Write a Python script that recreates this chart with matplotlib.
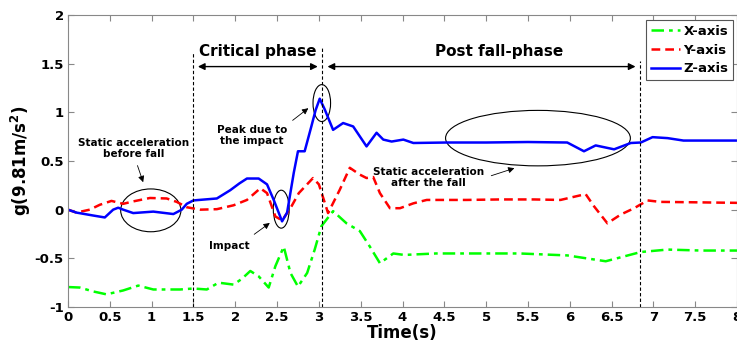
import matplotlib
matplotlib.use("Agg")
import matplotlib.pyplot as plt
from matplotlib.patches import Ellipse

# data
t_x = [0, 0.14, 0.30, 0.46, 0.66, 0.84, 1.02, 1.34, 1.50, 1.66, 1.80, 1.98, 2.08, 2.18, 2.28,
       2.40, 2.48, 2.58, 2.66, 2.75, 2.86, 2.95, 3.03, 3.17, 3.33, 3.49, 3.61, 3.73, 3.89, 4.02,
       4.40, 5.40, 5.97, 6.43, 6.85, 7.17, 7.57, 8.0]
x_axis = [-0.795, -0.80, -0.84, -0.87, -0.83, -0.78, -0.82, -0.82, -0.81, -0.82, -0.75, -0.77,
          -0.71, -0.63, -0.685, -0.80, -0.58, -0.38, -0.65, -0.79, -0.65, -0.41, -0.17, -0.015,
          -0.14, -0.22, -0.38, -0.55, -0.45, -0.465, -0.45, -0.45, -0.47, -0.53, -0.435, -0.41,
          -0.42, -0.42]

t_y = [0, 0.10, 0.26, 0.38, 0.52, 0.66, 0.78, 0.98, 1.18, 1.30, 1.42, 1.58, 1.78, 1.98, 2.14,
       2.30, 2.38, 2.48, 2.56, 2.66, 2.76, 2.93, 3.00, 3.11, 3.25, 3.37, 3.49, 3.57, 3.65, 3.73,
       3.85, 3.97, 4.13, 4.29, 4.77, 5.17, 5.57, 5.89, 6.19, 6.29, 6.45, 6.61, 6.77, 6.93, 7.08,
       7.56, 8.0]
y_axis = [0.0, -0.03, 0.0, 0.05, 0.09, 0.06, 0.085, 0.12, 0.115, 0.08, 0.025, 0.0, 0.005, 0.045,
          0.10, 0.22, 0.17, -0.07, -0.11, 0.015, 0.17, 0.325, 0.26, -0.035, 0.205, 0.43, 0.36,
          0.325, 0.335, 0.17, 0.015, 0.015, 0.065, 0.10, 0.10, 0.105, 0.105, 0.10, 0.16, 0.035,
          -0.14, -0.05, 0.015, 0.095, 0.08, 0.075, 0.07]

t_z = [0, 0.10, 0.30, 0.44, 0.54, 0.60, 0.66, 0.78, 1.02, 1.26, 1.36, 1.42, 1.50, 1.78, 1.94,
       2.05, 2.14, 2.28, 2.38, 2.46, 2.56, 2.62, 2.70, 2.75, 2.83, 2.91, 2.96, 3.01, 3.07, 3.17,
       3.29, 3.41, 3.57, 3.69, 3.77, 3.87, 4.01, 4.13, 4.53, 5.0, 5.5, 5.97, 6.17, 6.31, 6.53,
       6.73, 6.85, 6.99, 7.17, 7.36, 8.0]
z_axis = [0.0, -0.03, -0.06, -0.08, 0.0, 0.02, 0.0, -0.035, -0.02, -0.045, 0.0, 0.06, 0.095,
          0.115, 0.2, 0.27, 0.32, 0.32, 0.26, 0.10, -0.12, -0.03, 0.38, 0.6, 0.6, 0.855, 1.02,
          1.14, 1.03, 0.82, 0.89, 0.855, 0.65, 0.79, 0.72, 0.70, 0.72, 0.685, 0.69, 0.69, 0.695,
          0.69, 0.60, 0.66, 0.62, 0.685, 0.69, 0.745, 0.735, 0.71, 0.71]

phase_lines = [1.5, 3.04, 6.84]
line_tops = [1.61, 1.67, 1.53]

fig = plt.figure(figsize=(7.37, 3.43), dpi=100)
ax = fig.add_axes([68 / 737, 36 / 343, 669 / 737, 292 / 343])

ax.plot(t_x, x_axis, color='#00ff00', lw=1.8, ls=(0, (5, 2, 1.5, 2)), label='X-axis')
ax.plot(t_y, y_axis, color='#ff0000', lw=1.8, ls=(0, (3.5, 2)), label='Y-axis')
ax.plot(t_z, z_axis, color='#0000ff', lw=1.8, label='Z-axis')

for xv, top in zip(phase_lines, line_tops):
    ax.plot([xv, xv], [-1, top], color='black', lw=0.8, ls=(0, (3, 2)))

arr = dict(arrowstyle='<|-|>', color='black', lw=1.0, mutation_scale=10)
ax.annotate('', xy=(1.52, 1.47), xytext=(3.02, 1.47), arrowprops=arr)
ax.annotate('', xy=(3.07, 1.47), xytext=(6.82, 1.47), arrowprops=arr)
ax.text(2.27, 1.63, 'Critical phase', ha='center', va='center', fontsize=11, fontweight='bold')
ax.text(5.15, 1.63, 'Post fall-phase', ha='center', va='center', fontsize=11, fontweight='bold')

# ellipses
for cx, cy, w, h in [(0.99, -0.007, 0.72, 0.44), (2.55, 0.005, 0.19, 0.39),
                     (3.035, 1.095, 0.21, 0.38), (5.62, 0.735, 2.21, 0.57)]:
    ax.add_patch(Ellipse((cx, cy), w, h, fill=False, edgecolor='black', lw=0.8))

small = dict(arrowstyle='-|>', color='black', lw=0.6, mutation_scale=9)
ax.text(0.78, 0.63, 'Static acceleration\nbefore fall', ha='center', va='center',
        fontsize=7.5, fontweight='bold')
ax.annotate('', xy=(0.91, 0.255), xytext=(0.82, 0.48), arrowprops=small)
ax.annotate('', xy=(2.44, -0.12), xytext=(2.20, -0.27), arrowprops=small)
ax.text(1.93, -0.375, 'Impact', ha='center', va='center', fontsize=7.5, fontweight='bold')
ax.annotate('', xy=(2.90, 1.06), xytext=(2.66, 0.90), arrowprops=small)
ax.text(2.20, 0.76, 'Peak due to\nthe impact', ha='center', va='center', fontsize=7.5,
        fontweight='bold')
ax.annotate('', xy=(5.37, 0.435), xytext=(5.03, 0.34), arrowprops=small)
ax.text(4.31, 0.33, 'Static acceleration\nafter the fall', ha='center', va='center',
        fontsize=7.5, fontweight='bold')

ax.set_xlim(0, 8)
ax.set_ylim(-1, 2)
xt = [i * 0.5 for i in range(17)]
ax.set_xticks(xt)
ax.set_xticklabels(['%g' % v for v in xt], fontweight='bold', fontsize=9.5)
yt = [-1, -0.5, 0, 0.5, 1, 1.5, 2]
ax.set_yticks(yt)
ax.set_yticklabels(['%g' % v for v in yt], fontweight='bold', fontsize=9.5)
ax.tick_params(direction='in', top=True, right=True, length=4, color='#888888', pad=3)
for s in ax.spines.values():
    s.set_color('#888888')
ax.set_xlabel('Time(s)', fontweight='bold', fontsize=12, labelpad=0)
ax.set_ylabel('g(9.81m/s$^\\mathbf{2}$)', fontweight='bold', fontsize=12)
ax.yaxis.set_label_coords(-0.052, 0.5)

leg = ax.legend(loc='upper left', bbox_to_anchor=(0.864, 0.983),
                prop={'weight': 'bold', 'size': 9.5}, fancybox=False, edgecolor='#555555',
                handlelength=2.2, handletextpad=0.3, borderpad=0.35, labelspacing=0.45,
                borderaxespad=0, framealpha=1)
leg.get_frame().set_linewidth(0.8)

fig.savefig('out.png', dpi=100)
